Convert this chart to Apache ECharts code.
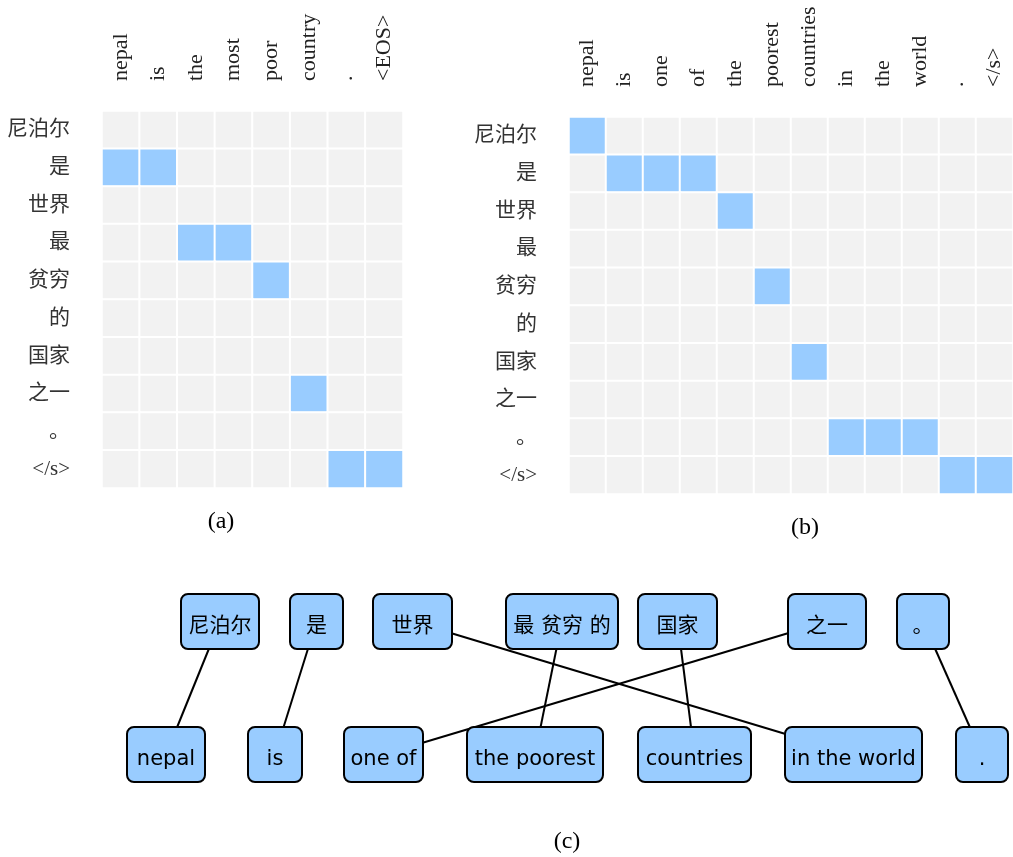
<!DOCTYPE html>
<html>
<head>
<meta charset="utf-8">
<script src="https://cdn.jsdelivr.net/npm/echarts@6/dist/echarts.min.js"></script>
<style>
  html, body { margin: 0; padding: 0; background: #fff; }
  #chart { width: 1013px; height: 857px; }
</style>
</head>
<body>
<div id="chart"></div>
<script>
// (a) / (b) heatmap tokens
const srcRows = ["尼泊尔", "是", "世界", "最", "贫穷", "的", "国家", "之一", "。", "</s>"];
const colsA = ["nepal", "is", "the", "most", "poor", "country", ".", "<EOS>"];
const colsB = ["nepal", "is", "one", "of", "the", "poorest", "countries", "in", "the", "world", ".", "</s>"];
// aligned cells as [row, col]
const alignA = [[1, 0], [1, 1], [3, 2], [3, 3], [4, 4], [7, 5], [9, 6], [9, 7]];
const alignB = [[0, 0], [1, 1], [1, 2], [1, 3], [2, 4], [4, 5], [6, 6], [8, 7], [8, 8], [8, 9], [9, 10], [9, 11]];

// (c) phrase boxes and links [srcIdx, tgtIdx]
const srcPhrases = ["尼泊尔", "是", "世界", "最 贫穷 的", "国家", "之一", "。"];
const tgtPhrases = ["nepal", "is", "one of", "the poorest", "countries", "in the world", "."];
const phraseLinks = [[0, 0], [1, 1], [2, 5], [3, 3], [4, 4], [5, 2], [6, 6]];

// layout of the boxes in (c), in page pixels
const srcSpan = [[181, 259], [290, 343], [373, 452], [506, 618], [638, 717], [788, 866], [897, 949]];
const tgtSpan = [[127, 205], [248, 302], [344, 423], [467, 603], [638, 751], [785, 922], [956, 1008]];
const rowTop = [594, 727];
const boxH = 55;

const serif = '"Liberation Serif", "Times New Roman", "Noto Sans CJK SC", serif';
const sans = '"DejaVu Sans", "Noto Sans CJK SC", sans-serif';

function cells(rows, cols, align) {
  const out = [];
  rows.forEach((r, i) => {
    cols.forEach((c, j) => {
      const hit = align.some(a => a[0] === i && a[1] === j);
      out.push([j, i, hit ? 1 : 0]);
    });
  });
  return out;
}

function heatX(cols, gridIndex) {
  return {
    type: "category",
    gridIndex: gridIndex,
    data: cols,
    position: "top",
    axisLine: { show: false },
    axisTick: { show: false },
    splitLine: { show: false },
    axisLabel: {
      rotate: -90,
      margin: 30,
      interval: 0,
      fontFamily: serif,
      fontSize: 22,
      color: "#222",
    },
  };
}

function heatY(gridIndex) {
  return {
    type: "category",
    gridIndex: gridIndex,
    data: srcRows,
    inverse: true,
    axisLine: { show: false },
    axisTick: { show: false },
    splitLine: { show: false },
    axisLabel: {
      margin: 32,
      interval: 0,
      fontFamily: serif,
      fontSize: 21,
      color: "#333",
    },
  };
}

function heatSeries(data, idx) {
  return {
    type: "heatmap",
    xAxisIndex: idx,
    yAxisIndex: idx,
    data: data,
    itemStyle: { borderColor: "#fff", borderWidth: 2 },
    emphasis: { disabled: true },
    silent: true,
  };
}

const chart = echarts.init(document.getElementById("chart"));

const srcBoxes = srcPhrases.map((t, i) => [(srcSpan[i][0] + srcSpan[i][1]) / 2, 0]);
const tgtBoxes = tgtPhrases.map((t, i) => [(tgtSpan[i][0] + tgtSpan[i][1]) / 2, 1]);

function boxRenderer(spans, texts, row) {
  return function (params, api) {
    const s = spans[params.dataIndex];
    const p1 = api.coord([s[0], rowTop[row]]);
    const p2 = api.coord([s[1], rowTop[row] + boxH]);
    const x = Math.min(p1[0], p2[0]);
    const y = Math.min(p1[1], p2[1]);
    const w = Math.abs(p2[0] - p1[0]);
    const h = Math.abs(p2[1] - p1[1]);
    return {
      type: "group",
      children: [
        {
          type: "rect",
          shape: { x: x, y: y, width: w, height: h, r: 7 },
          style: { fill: "#99ccff", stroke: "#000", lineWidth: 2 },
        },
        {
          type: "text",
          x: x + w / 2,
          y: y + h / 2 + 5,
          style: {
            text: texts[params.dataIndex],
            fontFamily: sans,
            fontSize: 21,
            fill: "#000",
            align: "center",
            verticalAlign: "middle",
          },
        },
      ],
    };
  };
}

const option = {
  animation: false,
  backgroundColor: "#fff",
  grid: [
    { left: 102, top: 111, width: 301, height: 377 },
    { left: 569, top: 117, width: 444, height: 377 },
    { left: 0, top: 0, width: 1013, height: 857 },
  ],
  xAxis: [
    heatX(colsA, 0),
    heatX(colsB, 1),
    { type: "value", gridIndex: 2, min: 0, max: 1013, show: false },
  ],
  yAxis: [
    heatY(0),
    heatY(1),
    { type: "value", gridIndex: 2, min: 0, max: 857, inverse: true, show: false },
  ],
  visualMap: {
    type: "piecewise",
    show: false,
    seriesIndex: [0, 1],
    dimension: 2,
    pieces: [
      { value: 0, color: "#f2f2f2" },
      { value: 1, color: "#99ccff" },
    ],
  },
  graphic: [
    { type: "text", x: 221, y: 522, style: { text: "(a)", fontFamily: serif, fontSize: 24, fill: "#000", align: "center", verticalAlign: "middle" } },
    { type: "text", x: 805, y: 528, style: { text: "(b)", fontFamily: serif, fontSize: 24, fill: "#000", align: "center", verticalAlign: "middle" } },
    { type: "text", x: 567, y: 842, style: { text: "(c)", fontFamily: serif, fontSize: 24, fill: "#000", align: "center", verticalAlign: "middle" } },
  ],
  series: [
    heatSeries(cells(srcRows, colsA, alignA), 0),
    heatSeries(cells(srcRows, colsB, alignB), 1),
    {
      // alignment links, drawn centre to centre under the boxes
      type: "custom",
      xAxisIndex: 2,
      yAxisIndex: 2,
      silent: true,
      z: 1,
      data: phraseLinks.map(l => [srcBoxes[l[0]][0], tgtBoxes[l[1]][0]]),
      renderItem: function (params, api) {
        const a = api.coord([api.value(0), rowTop[0] + boxH / 2]);
        const b = api.coord([api.value(1), rowTop[1] + boxH / 2]);
        return {
          type: "line",
          shape: { x1: a[0], y1: a[1], x2: b[0], y2: b[1] },
          style: { stroke: "#000", lineWidth: 2 },
        };
      },
    },
    {
      type: "custom",
      xAxisIndex: 2,
      yAxisIndex: 2,
      silent: true,
      z: 3,
      data: srcBoxes,
      renderItem: boxRenderer(srcSpan, srcPhrases, 0),
    },
    {
      type: "custom",
      xAxisIndex: 2,
      yAxisIndex: 2,
      silent: true,
      z: 3,
      data: tgtBoxes,
      renderItem: boxRenderer(tgtSpan, tgtPhrases, 1),
    },
  ],
};

chart.setOption(option);
</script>
</body>
</html>
